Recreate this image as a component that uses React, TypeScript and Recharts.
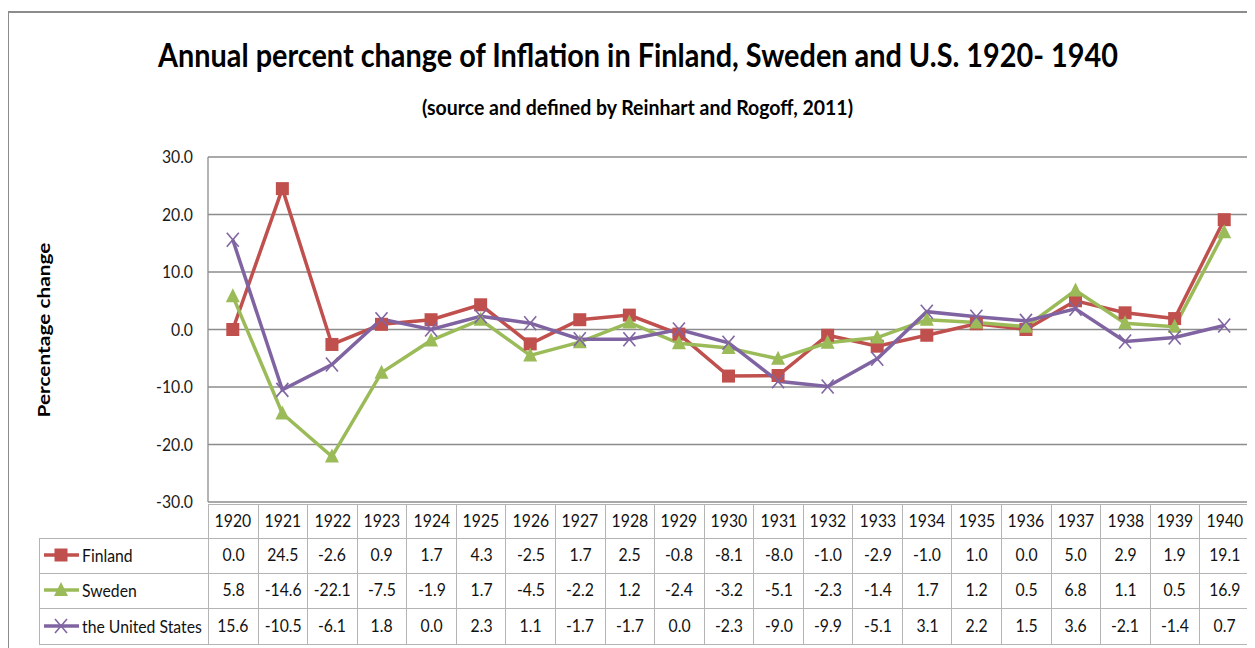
import React from 'react';
import { LineChart, Line, XAxis, YAxis, CartesianGrid } from 'recharts';

const years = ['1920', '1921', '1922', '1923', '1924', '1925', '1926', '1927', '1928', '1929', '1930',
  '1931', '1932', '1933', '1934', '1935', '1936', '1937', '1938', '1939', '1940'];
const finland = [0.0, 24.5, -2.6, 0.9, 1.7, 4.3, -2.5, 1.7, 2.5, -0.8, -8.1, -8.0, -1.0, -2.9, -1.0, 1.0, 0.0, 5.0, 2.9, 1.9, 19.1];
const sweden = [5.8, -14.6, -22.1, -7.5, -1.9, 1.7, -4.5, -2.2, 1.2, -2.4, -3.2, -5.1, -2.3, -1.4, 1.7, 1.2, 0.5, 6.8, 1.1, 0.5, 16.9];
const usa = [15.6, -10.5, -6.1, 1.8, 0.0, 2.3, 1.1, -1.7, -1.7, 0.0, -2.3, -9.0, -9.9, -5.1, 3.1, 2.2, 1.5, 3.6, -2.1, -1.4, 0.7];
const yTicks = [-30, -20, -10, 0, 10, 20, 30];

const RED = '#C0504D';
const GREEN = '#9BBB59';
const PURPLE = '#8064A2';
// Lato squeezed horizontally is a close stand-in for Calibri
const FONT = 'Lato, "Open Sans", sans-serif';
const SQUEEZE = 0.875;

const data = years.map((y, i) => ({ year: y, finland: finland[i], sweden: sweden[i], usa: usa[i] }));

const series = [
  { key: 'finland', name: 'Finland', color: RED, shape: 'square', values: finland },
  { key: 'sweden', name: 'Sweden', color: GREEN, shape: 'triangle', values: sweden },
  { key: 'usa', name: 'the United States', color: PURPLE, shape: 'cross', values: usa },
];

function Marker({ shape, cx, cy, color }) {
  if (shape === 'square') {
    return <rect x={cx - 6.5} y={cy - 6.5} width={13} height={13} fill={color} />;
  }
  if (shape === 'triangle') {
    return <polygon points={`${cx},${cy - 8} ${cx + 7},${cy + 6} ${cx - 7},${cy + 6}`} fill={color} />;
  }
  return (
    <g stroke={color} strokeWidth={1.6}>
      <line x1={cx - 6} y1={cy - 7} x2={cx + 6} y2={cy + 7} />
      <line x1={cx - 6} y1={cy + 7} x2={cx + 6} y2={cy - 7} />
    </g>
  );
}

const dotFor = (shape, color) => (props) => {
  const { cx, cy, index } = props;
  if (cx == null || cy == null) return <g key={`d-${shape}-${index}`} />;
  return (
    <g key={`d-${shape}-${index}`}>
      <Marker shape={shape} cx={cx} cy={cy} color={color} />
    </g>
  );
};

function YTick({ x, y, payload }) {
  return (
    <g transform={`translate(${x},${y}) scale(${SQUEEZE},1)`}>
      <text x={0} y={0} dy="0.36em" textAnchor="end" fontFamily={FONT} fontSize={18} fill="#1a1a1a">
        {Number(payload.value).toFixed(1)}
      </text>
    </g>
  );
}

function Narrow({ children, origin = 'center' }) {
  return (
    <span style={{ display: 'inline-block', transform: `scaleX(${SQUEEZE})`, transformOrigin: origin, whiteSpace: 'nowrap' }}>
      {children}
    </span>
  );
}

const COL_W = 1041 / 21;
const cellBorder = '1px solid #b4b4b4';

function DataTable() {
  const cell = {
    border: cellBorder,
    textAlign: 'center' as const,
    padding: '0 0 4px 0',
    fontFamily: FONT,
    fontSize: 18,
    color: '#111',
    overflow: 'visible',
  };
  const rowH = [34, 35, 35, 36];
  return (
    <table
      style={{
        position: 'absolute',
        left: 31,
        top: 496,
        borderCollapse: 'collapse',
        tableLayout: 'fixed',
        width: 169 + 1041,
      }}
    >
      <colgroup>
        <col style={{ width: 169 }} />
        {years.map((y) => (
          <col key={y} style={{ width: COL_W }} />
        ))}
      </colgroup>
      <tbody>
        <tr style={{ height: rowH[0] }}>
          <td style={{ border: 'none', padding: 0 }} />
          {years.map((y) => (
            <td key={y} style={cell}><Narrow>{y}</Narrow></td>
          ))}
        </tr>
        {series.map((s, r) => (
          <tr key={s.key} style={{ height: rowH[r + 1] }}>
            <td style={{ ...cell, textAlign: 'left', whiteSpace: 'nowrap', paddingLeft: 4 }}>
              <svg width={36} height={18} style={{ verticalAlign: 'middle', marginRight: 2 }}>
                <line x1={0} y1={9} x2={35} y2={9} stroke={s.color} strokeWidth={3.5} />
                <Marker shape={s.shape} cx={17} cy={9} color={s.color} />
              </svg>
              <span style={{ verticalAlign: 'middle' }}>
                <Narrow origin="left">{s.name}</Narrow>
              </span>
            </td>
            {s.values.map((v, i) => (
              <td key={i} style={cell}><Narrow>{v.toFixed(1)}</Narrow></td>
            ))}
          </tr>
        ))}
      </tbody>
    </table>
  );
}

export default function App() {
  return (
    <div style={{ position: 'relative', width: 1247, height: 640, overflow: 'hidden', background: '#fff' }}>
      <div
        style={{
          position: 'absolute',
          left: -1,
          top: 3,
          width: 1270,
          height: 700,
          border: '2px solid #8c8c8c',
          boxSizing: 'border-box',
        }}
      />
      <svg width={1247} height={640} style={{ position: 'absolute', left: 0, top: 0 }}>
        <text
          x={630}
          y={59}
          textAnchor="middle"
          fontFamily={FONT}
          fontWeight="bold"
          fontSize={33}
          textLength={960}
          lengthAdjust="spacingAndGlyphs"
          fill="#000"
        >
          Annual percent change of Inflation in Finland, Sweden and U.S. 1920- 1940
        </text>
        <text
          x={629.5}
          y={107}
          textAnchor="middle"
          fontFamily={FONT}
          fontWeight="bold"
          fontSize={20}
          textLength={431}
          lengthAdjust="spacingAndGlyphs"
          fill="#000"
        >
          (source and defined by Reinhart and Rogoff, 2011)
        </text>
        <text
          x={0}
          y={0}
          transform="translate(42 322) rotate(-90)"
          textAnchor="middle"
          fontFamily={FONT}
          fontWeight="bold"
          fontSize={17}
          textLength={175}
          lengthAdjust="spacingAndGlyphs"
          fill="#000"
        >
          Percentage change
        </text>
      </svg>
      <div style={{ position: 'absolute', left: 0, top: 0 }}>
        <LineChart width={1247} height={640} data={data} margin={{ top: 149, right: 6, bottom: 146, left: 140 }}>
          <CartesianGrid horizontal vertical={false} stroke="#8c8c8c" strokeWidth={1.3} />
          <XAxis dataKey="year" hide padding={{ left: COL_W / 2, right: COL_W / 2 }} />
          <YAxis
            domain={[-30, 30]}
            ticks={yTicks}
            width={60}
            axisLine={{ stroke: '#8c8c8c', strokeWidth: 1.3 }}
            tickLine={false}
            tickSize={0}
            tickMargin={15}
            tick={<YTick />}
          />
          {series.map((s) => (
            <Line
              key={s.key}
              type="linear"
              dataKey={s.key}
              name={s.name}
              stroke={s.color}
              strokeWidth={3.5}
              dot={dotFor(s.shape, s.color)}
              activeDot={false}
              isAnimationActive={false}
            />
          ))}
        </LineChart>
      </div>
      <DataTable />
    </div>
  );
}
